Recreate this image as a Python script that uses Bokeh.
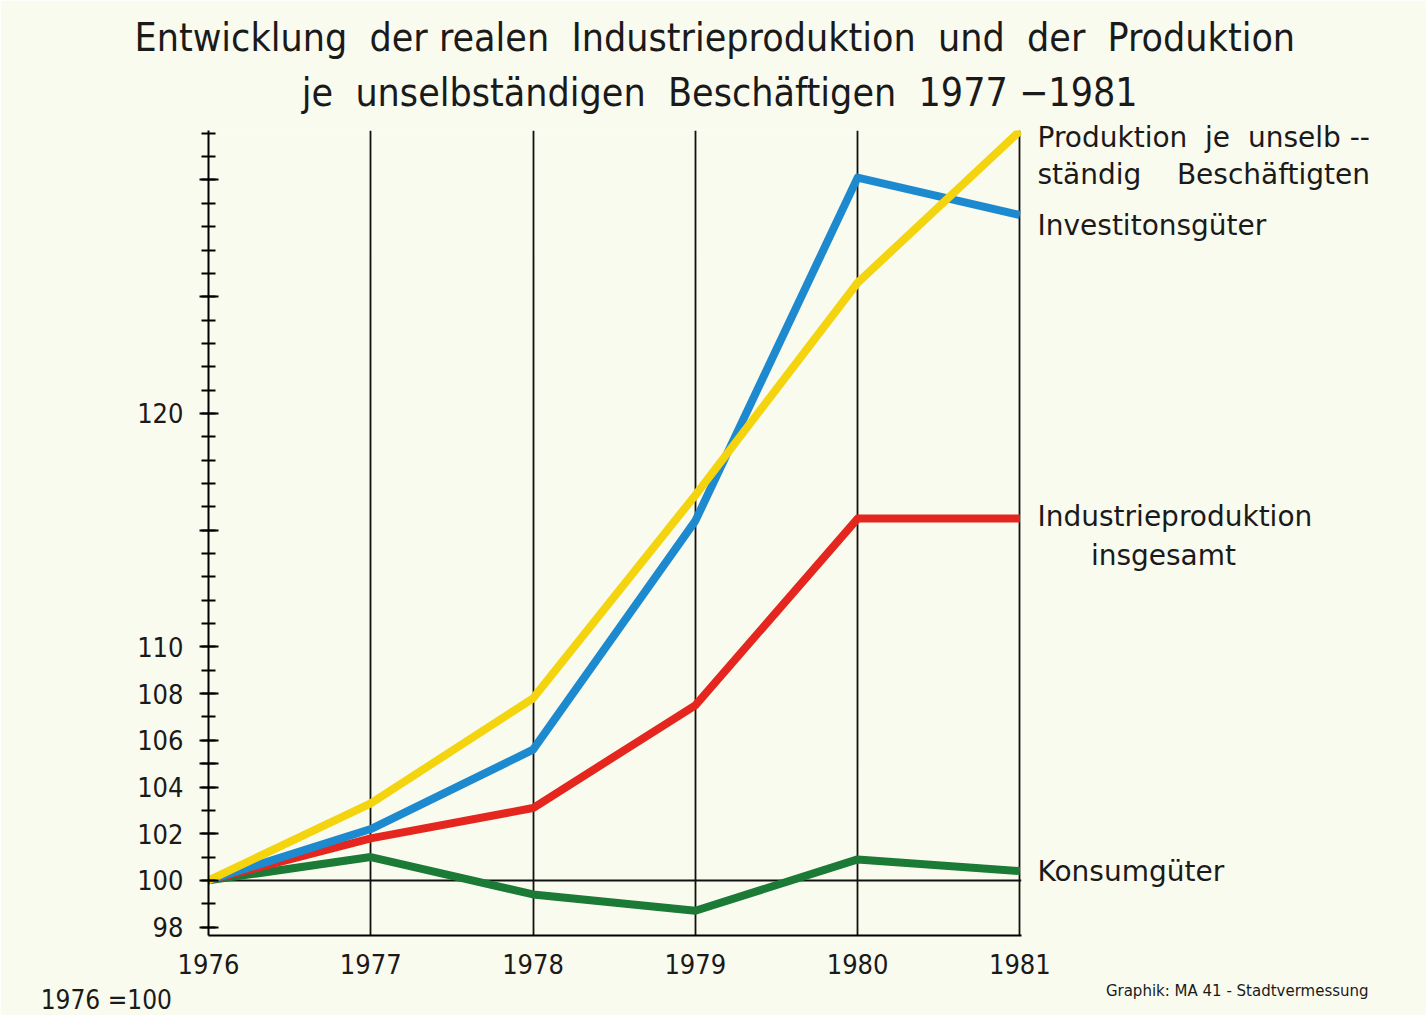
from bokeh.plotting import figure
from bokeh.models import FixedTicker, Label, LinearAxis
from bokeh.embed import file_html
from bokeh.resources import INLINE

# ---- data ----
years = [1976, 1977, 1978, 1979, 1980, 1981]
produktion_je_beschaeftigten = [100.0, 103.3, 107.8, 116.5, 125.6, 132.1]
investitionsgueter = [100.0, 102.2, 105.6, 115.4, 130.1, 128.5]
industrieproduktion = [100.0, 101.8, 103.1, 107.5, 115.5, 115.5]
konsumgueter = [100.0, 101.0, 99.4, 98.7, 100.9, 100.4]

y_labeled_ticks = [98, 100, 102, 104, 106, 108, 110, 120]
y_long_ticks = [105, 115, 125, 130]
y_minor_ticks = list(range(98, 133))

NB = "\u00a0"
title_lines = [("Entwicklung  der realen  Industrieproduktion  und  der  Produktion").replace("  ", NB + " "),
               ("je  unselbständigen  Beschäftigen  1977 −1981").replace("  ", NB + " ")]

# series names, written beside the last year at these index levels
series_label_y = [131.82, 130.24, 128.05, 115.59, 113.92, 100.39]
series_label_text = ["Produktion" + NB + " je" + NB + " unselb" + NB + "--",
                     "ständig" + NB * 3 + " Beschäftigten",
                     "Investitonsgüter",
                     "Industrieproduktion",
                     NB * 6 + "insgesamt",
                     "Konsumgüter"]

FONT = "DejaVu Sans Condensed"
FONT2 = "DejaVu Sans"
BG = "#fafbef"
INK = "#1a1a1a"

p = figure(width=1426, height=1015, output_backend="svg", toolbar_location=None,
           x_range=(1976, 1981.01), y_range=(97.64, 132.12),
           min_border_left=208, min_border_right=405, min_border_top=130,
           min_border_bottom=80, background_fill_color=BG, border_fill_color=BG)
p.outline_line_color = None

# x axis
p.xaxis.ticker = FixedTicker(ticks=years)
p.xaxis.axis_line_color = "black"
p.xaxis.axis_line_width = 2
p.xaxis.major_tick_line_color = None
p.xaxis.minor_tick_line_color = None
p.xaxis.major_label_standoff = 12
p.xaxis.major_label_text_font = FONT
p.xaxis.major_label_text_font_size = "27px"
p.xaxis.major_label_text_color = INK

# y axis
p.yaxis.ticker = FixedTicker(ticks=sorted(y_labeled_ticks + y_long_ticks), minor_ticks=y_minor_ticks)
p.yaxis.major_label_overrides = {t: "" for t in y_long_ticks}
p.yaxis.axis_line_color = "black"
p.yaxis.axis_line_width = 2
p.yaxis.major_tick_line_color = "black"
p.yaxis.major_tick_line_width = 2
p.yaxis.major_tick_in = 10
p.yaxis.major_tick_out = 9
p.yaxis.minor_tick_line_color = "black"
p.yaxis.minor_tick_line_width = 2
p.yaxis.minor_tick_in = 7
p.yaxis.minor_tick_out = 7
p.yaxis.major_label_standoff = 16
p.yaxis.major_label_text_font = FONT
p.yaxis.major_label_text_font_size = "27px"
p.yaxis.major_label_text_color = INK

# right-hand series names as an unlined axis
rax = LinearAxis(ticker=FixedTicker(ticks=series_label_y),
                 major_label_overrides={y: t for y, t in zip(series_label_y, series_label_text)},
                 axis_line_color=None, major_tick_line_color=None, minor_tick_line_color=None,
                 major_tick_out=0, major_tick_in=0, major_label_standoff=16,
                 major_label_text_font=FONT2, major_label_text_font_size="28px",
                 major_label_text_color=INK)
p.add_layout(rax, "right")

# grids
p.xgrid.ticker = FixedTicker(ticks=years)
p.xgrid.grid_line_color = "#111111"
p.xgrid.grid_line_width = 1.8
p.ygrid.ticker = FixedTicker(ticks=[100])
p.ygrid.grid_line_color = "#111111"
p.ygrid.grid_line_width = 1.8

# series
lw = 8
p.line(years, konsumgueter, line_color="#1b7a36", line_width=lw, line_join="round")
p.line(years, industrieproduktion, line_color="#e4261e", line_width=lw, line_join="round")
p.line(years, investitionsgueter, line_color="#1d8ad0", line_width=lw, line_join="round")
p.line(years, produktion_je_beschaeftigten, line_color="#f4d40e", line_width=lw, line_join="round")

# titles (side-panel labels are not clipped to the frame)
p.add_layout(Label(x=1979.12, y=136.1, text=title_lines[0], text_font=FONT,
                   text_font_size="39px", text_color=INK, text_align="center",
                   text_baseline="middle"), "above")
p.add_layout(Label(x=1979.15, y=133.75, text=title_lines[1], text_font=FONT,
                   text_font_size="39px", text_color=INK, text_align="center",
                   text_baseline="middle"), "above")

# footer texts
p.add_layout(Label(x=1974.966, y=94.86, text="1976" + NB + "=100",
                   text_font=FONT, text_font_size="26px", text_color=INK,
                   text_baseline="middle"), "below")
p.add_layout(Label(x=1981.53, y=95.25, text="Graphik:" + NB + "MA" + NB + "41" + NB + "-" + NB + "Stadtvermessung",
                   text_font=FONT2, text_font_size="15px", text_color=INK,
                   text_baseline="middle"), "above")

open("out.html", "w").write(file_html(p, INLINE))
